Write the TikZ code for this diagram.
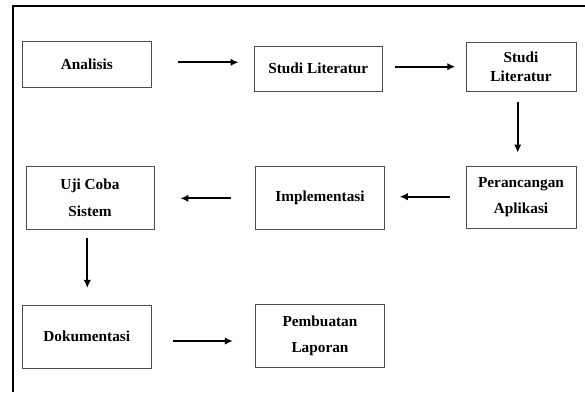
\documentclass[tikz,border=0pt]{standalone}
\usepackage{fontspec}
\setmainfont{Liberation Serif}
\usetikzlibrary{arrows.meta}
\tikzset{
  box/.style={draw=black!70, line width=0.9pt, inner sep=0pt, align=center,
    font={\fontsize{15.3}{26.5}\selectfont\bfseries}},
  arr/.style={line width=1.8pt, -{Latex[length=8pt,width=7.5pt]}},
}
\begin{document}
\begin{tikzpicture}[x=1pt,y=-1pt]
\useasboundingbox (0,0) rectangle (585,392);
\draw[line width=1.2pt] (585,6) coordinate (fr) -- (13,6) coordinate (fc) -- (13,392) coordinate (fb);
\node[box, minimum width=128.3pt, minimum height=45.6pt] (A) at (86.8,64.5) {Analisis};
\node[box, minimum width=128.7pt, minimum height=45pt] (B) at (318.3,68.5) {Studi Literatur};
\node[box, minimum width=110pt, minimum height=48.3pt, font={\fontsize{15.3}{18.5}\selectfont\bfseries}] (C) at (521,66.8) {Studi\\Literatur};
\node[box, minimum width=110pt, minimum height=62.3pt] (D) at (521,197.2) {Perancangan\\Aplikasi};
\node[box, minimum width=128.6pt, minimum height=62.6pt] (E) at (320,198) {Implementasi};
\node[box, minimum width=128pt, minimum height=63.3pt] (F) at (90,197.7) {Uji Coba\\Sistem};
\node[box, minimum width=128.3pt, minimum height=63.3pt] (G) at (86.8,336.7) {Dokumentasi};
\node[box, minimum width=128.6pt, minimum height=63.3pt] (H) at (320,335.7) {Pembuatan\\Laporan};
\draw[arr, shorten <=27pt, shorten >=15pt] ([yshift=2.2pt]A.east) -- ([yshift=6.2pt]B.west);
\draw[arr, shorten <=12.3pt, shorten >=10.3pt] ([yshift=1.8pt]B.east) -- ([yshift=0.1pt]C.west);
\draw[arr, shorten <=10.7pt, shorten >=13pt] ([xshift=-3.3pt]C.south) -- ([xshift=-3.3pt]D.north);
\draw[arr, shorten <=15.3pt, shorten >=15pt] ([yshift=0.5pt]D.west) -- ([yshift=1.3pt]E.east);
\draw[arr, shorten <=24.7pt, shorten >=26pt] ([yshift=-0.3pt]E.west) -- ([yshift=-0.6pt]F.east);
\draw[arr, shorten <=8pt, shorten >=16.7pt] ([xshift=-2.7pt]F.south) -- ([xshift=0.5pt]G.north);
\draw[arr, shorten <=21.7pt, shorten >=22.4pt] ([yshift=-4.3pt]G.east) -- ([yshift=-5.3pt]H.west);
\end{tikzpicture}
\end{document}
